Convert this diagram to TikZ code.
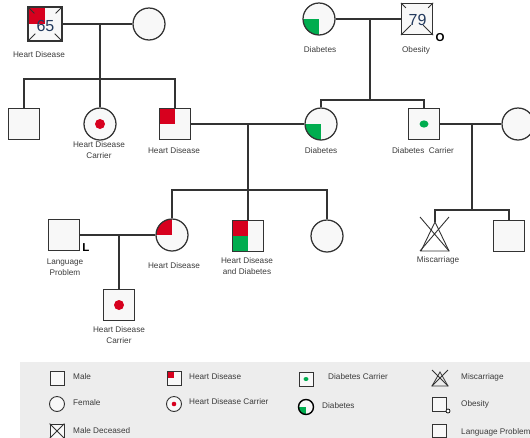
\documentclass[tikz,border=0pt]{standalone}
\usepackage{fontspec}
\setmainfont{Liberation Sans}
\usetikzlibrary{calc}
\definecolor{hdred}{HTML}{D7001E}
\definecolor{dgreen}{HTML}{00AD4F}
\definecolor{lnc}{HTML}{333333}
\definecolor{shfill}{HTML}{F8F8F8}
\definecolor{legbg}{HTML}{EDEDED}
\definecolor{txt}{HTML}{3C3C3C}
\definecolor{numc}{HTML}{233A5E}
\begin{document}
\begin{tikzpicture}[x=1pt,y=-1pt,
  ind/.style={draw=lnc, fill=shfill, line width=1.25pt, inner sep=0pt},
  male/.style={ind, rectangle, minimum size=31pt},
  female/.style={ind, circle, minimum size=32pt},
  lmale/.style={ind, rectangle, line width=0.9pt, minimum size=14pt},
  lfemale/.style={ind, circle, line width=0.9pt, minimum size=15pt},
  conn/.style={draw=lnc, line width=1.25pt},
  lbl/.style={font=\fontsize{8.2}{10.5}\selectfont, text=txt, inner sep=0pt, align=center},
  ltxt/.style={font=\fontsize{8.2}{10.5}\selectfont, text=txt, inner sep=0pt, anchor=west},
  numtxt/.style={font=\fontsize{16}{16}\selectfont, text=numc, inner sep=0pt},
  mark letter/.style={font=\bfseries\fontsize{11.5}{11.5}\selectfont, text=black, inner sep=0pt},
  hdq/.style={path picture={\fill[hdred] (path picture bounding box.north west) rectangle (path picture bounding box.center);}},
  dbq/.style={path picture={\fill[dgreen] (path picture bounding box.south west) rectangle (path picture bounding box.center);}},
  hddot/.style={path picture={\fill[hdred] (path picture bounding box.center) circle (#1);}},
  dbdot/.style={path picture={\fill[dgreen] (path picture bounding box.center) ellipse ({#1*1.25} and #1);}},
  hdhalf/.style={path picture={
     \fill[hdred] (path picture bounding box.north west) rectangle (path picture bounding box.center);
     \fill[dgreen] (path picture bounding box.south west) rectangle (path picture bounding box.center);}}
]
\path[use as bounding box] (0,0) rectangle (530,437);

% ---------- Generation 1 ----------
\node[male, hdq, minimum size=34pt] (d65) at (45,24) {};
\draw[lnc, line width=0.9pt] (d65.north west) -- ++(7,7) (d65.north east) -- ++(-7,7)
  (d65.south west) -- ++(8,-8) (d65.south east) -- ++(-8,-8);
\node[numtxt] (n65) at (45.5,26) {65};
\node[female] (gm1) at (149,24) {};

\node[female, dbq] (gm2) at (319,19) {};
\node[male] (gf2) at (417,19) {};
\draw[lnc, line width=0.9pt] (gf2.north west) -- ++(5,5) (gf2.north east) -- ++(-5,5)
  (gf2.south west) -- ++(10,-10) (gf2.south east) -- ++(-10,-10);
\node[numtxt] (n79) at (417.5,20) {79};
\node[mark letter] (obO) at (440,38) {O};

\node[lbl] (l1) at (39,55) {Heart Disease};
\node[lbl] (l2) at (320,50) {Diabetes};
\node[lbl] (l3) at (416,50) {Obesity};

% ---------- Generation 2 ----------
\node[male] (c1) at (24,124) {};
\node[female, hddot=5pt] (c2) at (100,124) {};
\node[male, hdq] (c3) at (175,124) {};
\node[female, dbq] (c4) at (321,124) {};
\node[male, dbdot=3.6pt] (c5) at (424,124) {};
\node[female] (c6) at (518,124) {};

\node[lbl] (l4) at (99,150) {Heart Disease\\Carrier};
\node[lbl] (l5) at (174,151) {Heart Disease};
\node[lbl] (l6) at (321,151) {Diabetes};
\node[lbl] (l7) at (423,151) {Diabetes\ \ Carrier};

% ---------- Generation 3 ----------
\node[male] (lp) at (64,235) {};
\node[mark letter] (lpL) at (86,248) {L};
\node[female, hdq] (g3a) at (172,235) {};
\node[male, hdhalf] (g3b) at (248,236) {};
\node[female] (g3c) at (327,236) {};
\coordinate (misc) at (435,222);
\node[male] (g3d) at (509,236) {};

\draw[lnc, line width=0.9pt] (misc) -- (421,251) -- (449,251) -- cycle;
\draw[lnc, line width=0.9pt] (420,217) -- (449,251) (449,217) -- (420,251);

\node[lbl] (l8) at (65,267) {Language\\Problem};
\node[lbl] (l9) at (174,266) {Heart Disease};
\node[lbl] (l10) at (247,266) {Heart Disease\\and Diabetes};
\node[lbl] (l11) at (438,260) {Miscarriage};

% ---------- Generation 4 ----------
\node[male, hddot=5pt] (g4) at (119,305) {};
\node[lbl] (l12) at (119,335) {Heart Disease\\Carrier};

% ---------- Connectors ----------
\coordinate (m1) at (d65.east -| 100,0);
\coordinate (s1) at (100,79);
\draw[conn] (d65.east) -- (gm1.west);
\draw[conn] (m1) -- (s1);
\draw[conn] (c1.north) -- (c1.north |- s1) -- (c3.north |- s1) -- (c3.north);
\draw[conn] (c2.north) -- (c2.north |- s1);

\coordinate (m2) at (gf2.west -| 370,0);
\coordinate (s2) at (370,100);
\draw[conn] (gm2.east) -- (gf2.west);
\draw[conn] (m2) -- (s2);
\draw[conn] (c4.north) -- (c4.north |- s2) -- (c5.north |- s2) -- (c5.north);

\coordinate (s3) at (g3b.north |- 0,190);
\draw[conn] (c3.east) -- (c4.west);
\draw[conn] (g3b.north) -- (g3b.north |- c3.east);
\draw[conn] (g3a.north) -- (g3a.north |- s3) -- (g3c.north |- s3) -- (g3c.north);

\coordinate (m4) at (c6.west -| 472,0);
\coordinate (s4) at (472,210);
\draw[conn] (c5.east) -- (c6.west);
\draw[conn] (m4) -- (s4);
\draw[conn] (misc) -- (misc |- s4) -- (g3d.north |- s4) -- (g3d.north);

\draw[conn] (lp.east) -- (g3a.west);
\draw[conn] (g4.north) -- (g4.north |- lp.east);

% ---------- Legend ----------
\fill[legbg] (20,362) rectangle (535,440);
\node[lmale] (lgm) at (57,378) {};
\node[ltxt] at (73,377) {Male};
\node[lfemale] (lgf) at (57,404) {};
\node[ltxt] at (73,403) {Female};
\node[lmale] (lgd) at (57,431) {};
\draw[lnc, line width=0.8pt] (lgd.north west) -- (lgd.south east) (lgd.north east) -- (lgd.south west);
\node[ltxt] at (73,431) {Male Deceased};

\node[lmale, hdq] (lgh) at (174,378) {};
\node[ltxt] at (189,377) {Heart Disease};
\node[lfemale, hddot=2.3pt] (lgc) at (174,404) {};
\node[ltxt] at (189,402) {Heart Disease Carrier};

\node[lmale, dbdot=2pt] (lgdc) at (306,379) {};
\node[ltxt] at (328,377) {Diabetes Carrier};
\node[lfemale, dbq, line width=1.4pt, draw=black] (lgdb) at (306,407) {};
\node[ltxt] at (322,406) {Diabetes};

\coordinate (lgmc) at (440,372);
\draw[lnc, line width=0.8pt] (lgmc) -- (432,386) -- (448,386) -- cycle;
\draw[lnc, line width=0.8pt] (432,370) -- (448,386) (448,370) -- (432,386);
\node[ltxt] at (461,377) {Miscarriage};

\node[lmale, minimum size=13.5pt] (lgo) at (439.5,404.5) {};
\node[draw=black, fill=white, circle, line width=0.7pt, minimum size=4pt, inner sep=0pt] (lgoc) at (448,411) {};
\node[ltxt] at (461,404) {Obesity};

\node[lmale, minimum size=13.5pt] (lgl) at (439.5,431) {};
\draw[black, line width=0.9pt] (lgl.south east) -- ++(2,2);
\node[ltxt] at (461,432) {Language Problem};
\end{tikzpicture}
\end{document}
